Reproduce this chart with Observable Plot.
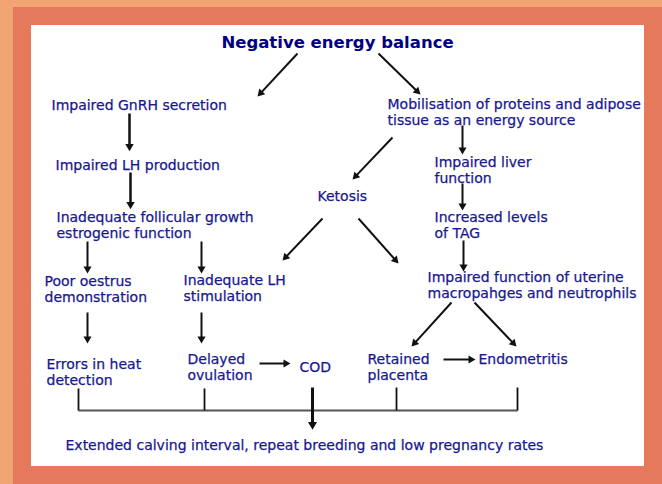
<!DOCTYPE html>
<html>
<head>
<meta charset="utf-8">
<script src="https://cdn.jsdelivr.net/npm/d3@7"></script>
<script src="https://cdn.jsdelivr.net/npm/@observablehq/plot@0.6"></script>
<style>
  html, body { margin: 0; padding: 0; background: #f2a472; }
  #chart svg { display: block; }
</style>
</head>
<body>
<div id="chart"></div>
<script>
// ---- Data: flowchart nodes (labels) ----
const title = "Negative energy balance";
const nodeLabels = [
  "Impaired GnRH secretion",
  "Impaired LH production",
  "Inadequate follicular growth\nestrogenic function",
  "Poor oestrus\ndemonstration",
  "Inadequate LH\nstimulation",
  "Errors in heat\ndetection",
  "Delayed\novulation",
  "COD",
  "Ketosis",
  "Mobilisation of proteins and adipose\ntissue as an energy source",
  "Impaired liver\nfunction",
  "Increased levels\nof TAG",
  "Impaired function of uterine\nmacropahges and neutrophils",
  "Retained\nplacenta",
  "Endometritis"
];
const outcome = "Extended calving interval, repeat breeding and low pregnancy rates";

// ---- Layout (diagram coordinates, pixel space) ----
const nodeX = [51, 55, 56, 44, 183, 46, 187, 299, 317, 387, 434, 434, 427, 367, 478];
const nodeY = [103, 163, 215, 279, 278, 362, 357, 365, 194, 102, 160, 215, 275, 357, 357];
const titlePos = [337, 42];
const outcomePos = [65, 445];

// arrows: [x1, y1, x2, y2, weight]
const arrows = [
  [297, 53, 257, 96, 2],
  [378, 53, 420, 94, 2],
  [129, 113, 129, 151, 2.5],
  [130, 172, 130, 209, 2.5],
  [87, 241, 87, 273, 2],
  [201, 241, 201, 273, 2],
  [392, 137, 352, 179, 2],
  [462, 125, 462, 154, 2],
  [462, 183, 462, 210, 2],
  [322, 218, 282, 260, 2],
  [358, 218, 398, 263, 2],
  [463, 240, 463, 271, 2],
  [451, 302, 411, 346, 2],
  [474, 302, 516, 346, 2],
  [87, 312, 87, 343, 2],
  [201, 312, 201, 343, 2],
  [259, 363, 290, 363, 2],
  [443, 359, 475, 359, 2],
  [312, 387, 312, 430, 3]
];
// bracket joining outcomes: [x1, y1, x2, y2]
const bracket = [
  [78, 388, 78, 410],
  [204, 388, 204, 410],
  [396, 387, 396, 410],
  [517, 387, 517, 410]
];
const bracketBase = [[78, 410, 517, 410]];

const W = 662, H = 484;
const panels = [
  {x1: 13, x2: 662, y1: 7, y2: 484, fill: "#e4795c"},
  {x1: 31, x2: 644, y1: 25, y2: 466, fill: "#ffffff"}
];

const nodes = nodeLabels.map((t, i) => ({text: t, x: nodeX[i], y: nodeY[i]}));
const arrowRows = arrows.map(([x1, y1, x2, y2, w]) => {
  const dx = x2 - x1, dy = y2 - y1, L = Math.hypot(dx, dy);
  const ux = dx / L, uy = dy / L;
  const r = w >= 3 ? 3.8 : w >= 2.5 ? 3.3 : 3;
  const tip = 2 * Math.sqrt(Math.PI * r * r / (Math.sqrt(3) * 3));
  return {
    x1, y1, w, r,
    x2: x2 - ux * tip, y2: y2 - uy * tip,
    cx: x2 - ux * tip, cy: y2 - uy * tip,
    angle: Math.atan2(dx, -dy) * 180 / Math.PI
  };
});
const toRows = arr => arr.map(([x1, y1, x2, y2]) => ({x1, y1, x2, y2}));

const font = "DejaVu Sans, Verdana, sans-serif";
const blue = "#18188f";

const plot = Plot.plot({
  width: W,
  height: H,
  margin: 0,
  x: {domain: [0, W], range: [0, W], axis: null},
  y: {domain: [0, H], range: [0, H], axis: null},
  style: {background: "#f2a472", fontFamily: font},
  marks: [
    Plot.rect(panels, {x1: "x1", x2: "x2", y1: "y1", y2: "y2", fill: d => d.fill}),
    Plot.link(toRows(bracketBase), {x1: "x1", y1: "y1", x2: "x2", y2: "y2", stroke: "#555", strokeWidth: 1.8}),
    Plot.link(toRows(bracket), {x1: "x1", y1: "y1", x2: "x2", y2: "y2", stroke: "#111", strokeWidth: 1.8}),
    Plot.link(arrowRows, {x1: "x1", y1: "y1", x2: "x2", y2: "y2", stroke: "#111", strokeWidth: d => d.w}),
    Plot.dot(arrowRows, {x: "cx", y: "cy", symbol: "triangle", r: d => d.r, rotate: "angle", fill: "#111", stroke: "none"}),
    Plot.text(nodes, {
      x: "x", y: "y", text: "text", textAnchor: "start", lineAnchor: "top", dy: -5,
      lineHeight: 1.15, fontSize: 14, fill: blue, fontFamily: font,
      stroke: blue, strokeWidth: 0.25
    }),
    Plot.text([title], {
      x: () => titlePos[0], y: () => titlePos[1], text: d => d, textAnchor: "middle",
      fontSize: 16.5, fontWeight: "bold", fill: "#000080", fontFamily: font
    }),
    Plot.text([outcome], {
      x: () => outcomePos[0], y: () => outcomePos[1], text: d => d, textAnchor: "start",
      fontSize: 14, fill: blue, fontFamily: font, stroke: blue, strokeWidth: 0.25
    })
  ]
});
document.getElementById("chart").appendChild(plot);
</script>
</body>
</html>
